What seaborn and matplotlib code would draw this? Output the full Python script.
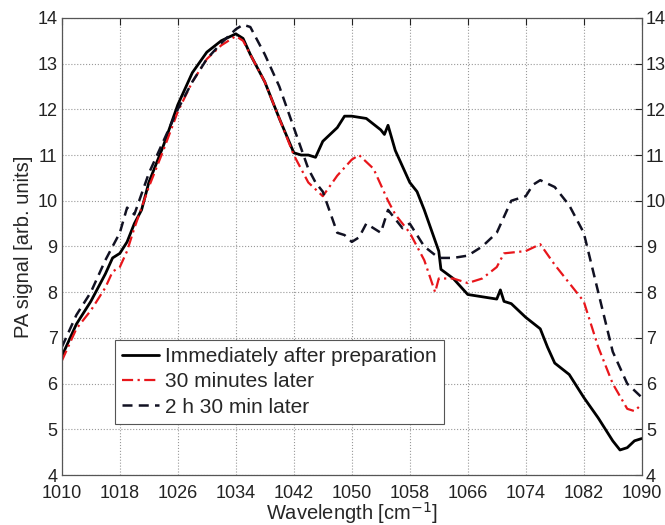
import matplotlib
matplotlib.use("Agg")
import matplotlib.pyplot as plt
import seaborn as sns
import pandas as pd

# Immediately after preparation
x_imm = [1010, 1012, 1014, 1016, 1017, 1018, 1019, 1020, 1021, 1022, 1024, 1026, 1028, 1030, 1032, 1034,
         1035, 1036, 1038, 1040, 1042, 1043, 1044, 1045, 1046, 1048, 1049, 1050, 1052, 1054, 1054.5, 1055,
         1056, 1058, 1059, 1060, 1062, 1062.3, 1064, 1066, 1068, 1070, 1070.5, 1071, 1072, 1074, 1076,
         1077, 1078, 1080, 1082, 1084, 1086, 1087, 1088, 1089, 1090]
y_imm = [6.6, 7.3, 7.8, 8.4, 8.75, 8.85, 9.1, 9.5, 9.8, 10.4, 11.2, 12.1, 12.8, 13.25, 13.5, 13.65,
         13.55, 13.2, 12.6, 11.8, 11.05, 11.0, 11.0, 10.95, 11.3, 11.6, 11.85, 11.85, 11.8, 11.55, 11.45, 11.65,
         11.1, 10.4, 10.2, 9.8, 8.9, 8.5, 8.3, 7.95, 7.9, 7.85, 8.05, 7.8, 7.75, 7.45, 7.2,
         6.8, 6.45, 6.2, 5.7, 5.25, 4.75, 4.55, 4.6, 4.75, 4.8]

# 30 minutes later
x_30 = [1010, 1012, 1014, 1016, 1017, 1018, 1019, 1020, 1022, 1024, 1026, 1028, 1030, 1032, 1034, 1035,
        1036, 1038, 1040, 1042, 1044, 1046, 1048, 1050, 1051, 1052, 1053, 1055, 1056, 1058, 1060, 1061.5,
        1062, 1064, 1066, 1068, 1070, 1071, 1074, 1076, 1078, 1080, 1082, 1084, 1086, 1088, 1089, 1090]
y_30 = [6.5, 7.2, 7.6, 8.1, 8.45, 8.55, 8.9, 9.4, 10.3, 11.1, 11.95, 12.6, 13.1, 13.4, 13.6, 13.5,
        13.2, 12.6, 11.8, 11.0, 10.4, 10.1, 10.55, 10.9, 11.0, 10.85, 10.7, 10.0, 9.7, 9.3, 8.7, 8.0,
        8.3, 8.3, 8.2, 8.3, 8.55, 8.85, 8.9, 9.05, 8.6, 8.2, 7.8, 6.8, 6.0, 5.45, 5.4, 5.55]

# 2 h 30 min later
x_150 = [1010, 1012, 1014, 1016, 1018, 1019, 1020, 1022, 1024, 1026, 1028, 1030, 1032, 1034, 1035, 1036,
         1038, 1040, 1042, 1044, 1045, 1046, 1047, 1048, 1049, 1050, 1051, 1052, 1054, 1055, 1056, 1057,
         1058, 1060, 1062, 1064, 1066, 1068, 1069, 1070, 1072, 1074, 1075, 1076, 1078, 1080, 1082, 1084,
         1086, 1088, 1090]
y_150 = [6.8, 7.5, 8.0, 8.7, 9.3, 9.85, 9.7, 10.6, 11.3, 12.0, 12.6, 13.1, 13.45, 13.75, 13.85, 13.8,
         13.2, 12.5, 11.6, 10.7, 10.4, 10.2, 9.75, 9.3, 9.25, 9.1, 9.2, 9.5, 9.3, 9.8, 9.6, 9.4,
         9.5, 9.0, 8.75, 8.75, 8.8, 9.0, 9.15, 9.3, 10.0, 10.1, 10.35, 10.45, 10.3, 9.9, 9.3, 8.0,
         6.7, 6.0, 5.7]

labels = ["Immediately after preparation", "30 minutes later", "2 h 30 min later"]
x_ticks = [1010, 1018, 1026, 1034, 1042, 1050, 1058, 1066, 1074, 1082, 1090]
y_ticks = [4, 5, 6, 7, 8, 9, 10, 11, 12, 13, 14]

sns.set_theme(style="white")
plt.rcParams['font.family'] = ['Liberation Sans', 'DejaVu Sans']

fig = plt.figure(figsize=(6.65, 5.25), dpi=100)
ax = fig.add_axes([0.093, 0.095, 0.872, 0.871])

df1 = pd.DataFrame({"x": x_imm, "y": y_imm})
df2 = pd.DataFrame({"x": x_30, "y": y_30})
df3 = pd.DataFrame({"x": x_150, "y": y_150})

sns.lineplot(data=df1, x="x", y="y", ax=ax, color="black", lw=2.0, label=labels[0])
sns.lineplot(data=df2, x="x", y="y", ax=ax, color="#e8161b", lw=1.6, label=labels[1],
             linestyle=(0, (5, 2, 1, 2)))
sns.lineplot(data=df3, x="x", y="y", ax=ax, color="#111122", lw=1.8, label=labels[2],
             linestyle=(0, (4, 2.5)))

ax.set_xlim(1010, 1090)
ax.set_ylim(4, 14)
ax.set_xticks(x_ticks)
ax.set_yticks(y_ticks)
ax.grid(True, linestyle=":", color="#999999", linewidth=0.8)
ax.tick_params(direction="in", length=5, right=True, top=True, labelright=True,
               labelsize=13, colors="#222222", width=0.8)
ax.tick_params(axis="x", pad=7)
ax.tick_params(axis="y", pad=3)
for s in ax.spines.values():
    s.set_color("#555555")
    s.set_linewidth(0.9)
ax.set_xlabel("Wavelength [cm$^{-1}$]", fontsize=14.5, labelpad=-1)
ax.set_ylabel("PA signal [arb. units]", fontsize=14.5, labelpad=3)

leg = ax.legend(loc="lower left", bbox_to_anchor=(0.091, 0.112), fontsize=15,
                frameon=True, fancybox=False, edgecolor="#555555", framealpha=1,
                handlelength=1.8, handletextpad=0.25, borderpad=0.35, labelspacing=0.3,
                borderaxespad=0)
leg.get_frame().set_linewidth(0.8)

fig.savefig("out.png", dpi=100)
